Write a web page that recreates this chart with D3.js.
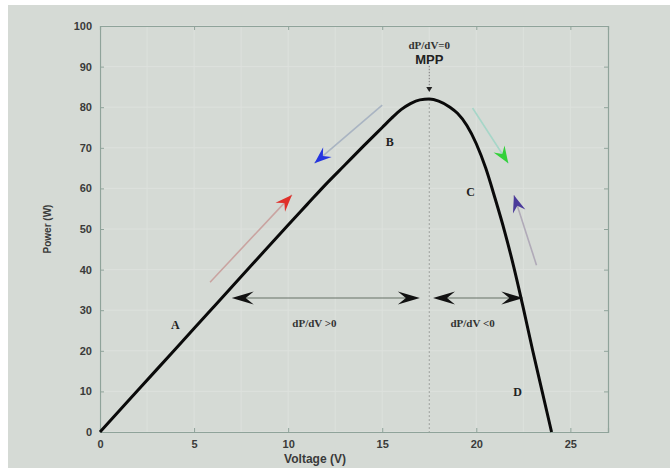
<!DOCTYPE html>
<html><head><meta charset="utf-8">
<script src="https://cdn.jsdelivr.net/npm/d3@7"></script>
<style>
html,body{margin:0;padding:0;background:#fff;}
svg{display:block;}
</style></head>
<body>
<svg id="chart" width="670" height="468"></svg>
<script>
// ---- data ----
const voltage = [0, 2, 4, 6, 8, 10, 11, 12, 13, 14, 15, 15.5, 16, 16.5, 17, 17.5, 18, 18.6, 19, 19.5, 20, 20.5, 21, 21.5, 22, 22.5, 23, 23.5, 24];
const power   = [0, 10.2, 20.4, 30.6, 40.8, 51, 56, 61, 65.7, 70.4, 75, 77.3, 79.4, 80.9, 81.8, 82, 81.5, 80, 78.5, 75.5, 71, 65, 57.5, 49.5, 40.5, 30.5, 20, 10, 0];
const xTicks = [0, 5, 10, 15, 20, 25];
const yTicks = [0, 10, 20, 30, 40, 50, 60, 70, 80, 90, 100];
const mppV = 17.5, mppP = 82;
const pointLabels = [
  {t: "A", v: 4.0, p: 26.3},
  {t: "B", v: 15.4, p: 71.4},
  {t: "C", v: 19.7, p: 59.0},
  {t: "D", v: 22.2, p: 9.8}
];
const trackArrows = [ // tail -> head
  {v0: 5.85, p0: 36.9, v1: 10.2, p1: 58.4, head: "#e0302a", shaft: "#c9a3a0"},
  {v0: 15.0, p0: 80.5, v1: 11.4, p1: 66.2, head: "#2434e0", shaft: "#a9b4c2"},
  {v0: 19.8, p0: 79.8, v1: 21.7, p1: 66.2, head: "#33d13a", shaft: "#a6d6c8"},
  {v0: 23.2, p0: 41.1, v1: 22.0, p1: 58.3, head: "#4a3a9a", shaft: "#b0aab8"}
];
const regionArrows = [
  {v0: 7.0, v1: 17.0, p: 33, label: "dP/dV >0", lv: 11.4, lp: 25.8},
  {v0: 17.7, v1: 22.5, p: 33, label: "dP/dV <0", lv: 19.8, lp: 25.8}
];

// ---- layout ----
const svg = d3.select("#chart");
const W = 670, H = 468;
svg.append("rect").attr("x", 8).attr("y", 5).attr("width", W - 8).attr("height", H - 5).attr("fill", "#d5dad5");

const x = d3.scaleLinear().domain([0, 27]).range([100, 608]);
const y = d3.scaleLinear().domain([0, 100]).range([432, 26]);

const fontSans = "'Liberation Sans', Arial, sans-serif";
const fontSerif = "'Liberation Serif', 'Times New Roman', serif";

// grid
const g = svg.append("g");
g.selectAll(".gx").data(d3.range(0, 27, 2.5)).enter().append("line")
  .attr("x1", d => x(d)).attr("x2", d => x(d)).attr("y1", y(0)).attr("y2", y(100))
  .attr("stroke", "#dde1dd").attr("stroke-width", 1);
g.selectAll(".gy").data(d3.range(0, 101, 10)).enter().append("line")
  .attr("y1", d => y(d)).attr("y2", d => y(d)).attr("x1", x(0)).attr("x2", x(27))
  .attr("stroke", "#dde1dd").attr("stroke-width", 1);

// axes
const axB = svg.append("g").attr("transform", `translate(0,${y(0)})`)
  .call(d3.axisBottom(x).tickValues(xTicks).tickSize(-4).tickPadding(8));
const axL = svg.append("g").attr("transform", `translate(${x(0)},0)`)
  .call(d3.axisLeft(y).tickValues(yTicks).tickSize(-4).tickPadding(8));
const axT = svg.append("g").attr("transform", `translate(0,${y(100)})`)
  .call(d3.axisTop(x).tickValues(xTicks).tickSize(-4).tickFormat(""));
const axR = svg.append("g").attr("transform", `translate(${x(27)},0)`)
  .call(d3.axisRight(y).tickValues(yTicks).tickSize(-4).tickFormat(""));
[axB, axL, axT, axR].forEach(a => {
  a.select(".domain").attr("stroke", "#8fa39a").attr("stroke-width", 1.2);
  a.selectAll(".tick line").attr("stroke", "#8fa39a");
  a.selectAll("text").attr("fill", "#3a3a3a").style("font-family", fontSans)
    .style("font-size", "11px").style("font-weight", "bold");
});

svg.append("text").attr("x", 315).attr("y", 463).attr("text-anchor", "middle")
  .style("font-family", fontSans).style("font-size", "12px").style("font-weight", "bold")
  .attr("fill", "#3a3a3a").text("Voltage (V)");
svg.append("text").attr("transform", `translate(51,${y(50)}) rotate(-90)`).attr("text-anchor", "middle")
  .style("font-family", fontSans).style("font-size", "10px").style("font-weight", "bold")
  .attr("fill", "#3a3a3a").text("Power (W)");

// MPP dashed line
svg.append("line").attr("x1", x(mppV)).attr("x2", x(mppV)).attr("y1", y(mppP)).attr("y2", y(0))
  .attr("stroke", "#9a9f9a").attr("stroke-width", 1).attr("stroke-dasharray", "2,2");
svg.append("line").attr("x1", x(mppV)).attr("x2", x(mppV)).attr("y1", y(90.2)).attr("y2", y(85))
  .attr("stroke", "#777").attr("stroke-width", 1).attr("stroke-dasharray", "1.5,1.5");
svg.append("path").attr("d", `M${x(mppV) - 3},${y(85)} L${x(mppV) + 3},${y(85)} L${x(mppV)},${y(85) + 5} Z`)
  .attr("fill", "#222");
svg.append("text").attr("x", x(mppV)).attr("y", y(94.4)).attr("text-anchor", "middle")
  .style("font-family", fontSerif).style("font-size", "11px").style("font-weight", "bold")
  .attr("fill", "#333").text("dP/dV=0");
svg.append("text").attr("x", x(mppV)).attr("y", y(90.6)).attr("text-anchor", "middle")
  .style("font-family", fontSans).style("font-size", "13px").style("font-weight", "bold")
  .attr("fill", "#222").text("MPP");

// track arrows
function headPath(len, wid, notch) {
  return `M0,0 L${-len},${-wid / 2} L${-len + notch},0 L${-len},${wid / 2} Z`;
}
trackArrows.forEach(a => {
  const x0 = x(a.v0), y0 = y(a.p0), x1 = x(a.v1), y1 = y(a.p1);
  svg.append("line").attr("x1", x0).attr("y1", y0).attr("x2", x1).attr("y2", y1)
    .attr("stroke", a.shaft).attr("stroke-width", 1.6);
  const ang = Math.atan2(y1 - y0, x1 - x0) * 180 / Math.PI;
  svg.append("path").attr("d", headPath(17, 13, 6))
    .attr("transform", `translate(${x1},${y1}) rotate(${ang})`).attr("fill", a.head);
});

// PV curve
const pts = voltage.map((v, i) => [v, power[i]]);
svg.append("path").datum(pts)
  .attr("d", d3.line().x(d => x(d[0])).y(d => y(d[1])).curve(d3.curveMonotoneX))
  .attr("fill", "none").attr("stroke", "#0a0a0a").attr("stroke-width", 3);

// region arrows
regionArrows.forEach(r => {
  const x0 = x(r.v0), x1 = x(r.v1), yy = y(r.p);
  svg.append("line").attr("x1", x0 + 8).attr("x2", x1 - 8).attr("y1", yy).attr("y2", yy)
    .attr("stroke", "#667066").attr("stroke-width", 1.1);
  svg.append("path").attr("d", headPath(22, 13, 8)).attr("transform", `translate(${x1},${yy})`).attr("fill", "#111");
  svg.append("path").attr("d", headPath(22, 13, 8)).attr("transform", `translate(${x0},${yy}) rotate(180)`).attr("fill", "#111");
  svg.append("text").attr("x", x(r.lv)).attr("y", y(r.lp)).attr("text-anchor", "middle")
    .style("font-family", fontSerif).style("font-size", "11px").style("font-weight", "bold")
    .attr("fill", "#333").text(r.label);
});

// point labels
svg.selectAll(".pl").data(pointLabels).enter().append("text")
  .attr("x", d => x(d.v)).attr("y", d => y(d.p) + 4).attr("text-anchor", "middle")
  .style("font-family", fontSerif).style("font-size", "12px").style("font-weight", "bold")
  .attr("fill", "#222").text(d => d.t);
</script>
</body></html>
